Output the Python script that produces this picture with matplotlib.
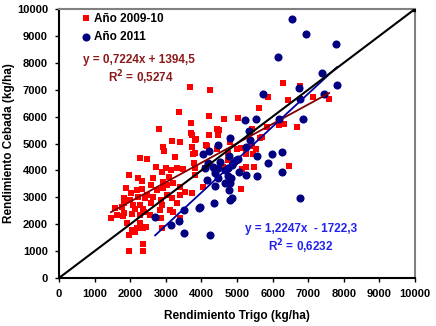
import numpy as np
import matplotlib
matplotlib.use('Agg')
import matplotlib.pyplot as plt

# datos (kg/ha)
trigo_0910 = [3680, 4240, 3370, 4210, 3710, 2810, 3710, 3740, 4210, 3170, 3850, 3400, 2920, 3740, 2950,
              4160, 3260, 3820, 2280, 2470, 3010, 2730, 2890, 3150, 3320, 3480, 3820, 2220, 2330, 1970,
              2640, 2920, 3090, 1880, 2020, 2190, 2330, 2580, 2750, 2920, 3030, 3200, 3400, 3540, 2470,
              2220, 2420, 2640, 3030, 3170, 3400, 3740, 1830, 1990, 2870, 1830, 2080, 2280, 2580, 2890,
              3320, 2140, 2360, 2840, 3120, 1570, 1770, 2280, 2050, 2870, 3200, 3400, 1830, 2390, 2560,
              2750, 1630, 1800, 1910, 2190, 2280, 2050, 2890, 1460, 1970, 2440, 2360, 2140, 1970, 2360,
              2360, 6290, 6770, 5870, 6430, 7140, 7580, 5620, 4640, 5030, 5420, 4490, 4470, 4130, 6180,
              6320, 6690, 5700, 5530, 5250, 5450, 5000, 4440, 4750, 4940, 5250, 5480, 6460, 5110, 4610,
              4750, 4050, 4800, 5110, 5420, 5650, 5840, 3760, 3820, 4720, 4440, 3820, 5140, 3790, 4100]
cebada_0910 = [7100, 6990, 6170, 6020, 5760, 5540, 5390, 5310, 5310, 5090, 5170, 5060, 4870, 4870, 4720,
               4910, 4500, 4650, 4460, 4420, 4090, 4130, 3940, 4010, 4090, 4050, 3830, 3720, 3600, 3830,
               3720, 3570, 3750, 3340, 3160, 3270, 3310, 3460, 3270, 3340, 3460, 3530, 3380, 3200, 3080,
               3010, 2970, 3010, 3080, 2970, 3080, 3160, 2970, 2900, 2900, 2790, 2710, 2710, 2790, 2710,
               2790, 2570, 2570, 2530, 2530, 2600, 2640, 2340, 2380, 2230, 2450, 2230, 2420, 2450, 2340,
               2230, 2340, 2300, 2040, 1860, 2040, 1780, 1860, 2230, 1600, 1900, 1860, 1710, 1000, 1000,
               1260, 7250, 7140, 6730, 6620, 6730, 6650, 6320, 5910, 5950, 5540, 5500, 5310, 4940, 5690,
               5720, 5610, 5240, 4800, 4610, 4610, 4800, 4800, 4650, 4310, 4130, 4130, 4160, 3310, 4130,
               4390, 3380, 5060, 4830, 4910, 5200, 5610, 4610, 4090, 4010, 5540, 5130, 4050, 4280, 4090]

trigo_2011 = [6545, 6940, 7780, 6150, 7390, 6740, 7810, 5730, 6770, 7440, 5230, 5530, 6180, 6850, 5340,
              4800, 5370, 4470, 4210, 5250, 4050, 4780, 5980, 5030, 4160, 4350, 3930, 3510, 2700, 3150,
              3370, 3510, 4240, 4380, 5870, 6260, 5250, 5560, 5060, 4660, 4380, 4470, 4750, 4800, 4660,
              4780, 4860, 4800, 6770, 3960, 4190, 4330, 4890, 4520, 4830, 5560, 6260, 4750, 4870, 4970,
              4470, 4390, 4100]
cebada_2011 = [9630, 9070, 8700, 8220, 7620, 7060, 7170, 6840, 6650, 6840, 5870, 5910, 5910, 5910, 5460,
               5200, 5130, 4940, 4720, 4870, 4610, 4540, 4610, 4420, 3640, 2790, 2600, 2530, 2270, 1970,
               2120, 1670, 1600, 3420, 4280, 3940, 3830, 3790, 3940, 4010, 3900, 3720, 3790, 3530, 3530,
               3270, 2970, 2900, 2970, 2640, 4280, 4130, 4280, 4310, 3720, 4540, 4680, 4100, 4200, 4380,
               4090, 4000, 4100]

# regresiones
pend_0910, inter_0910 = 0.7224, 1394.5
rango_0910 = [1460, 7590]
pend_2011, inter_2011 = 1.2247, -1722.3
rango_2011 = [2700, 7810]

plt.rcParams['font.family'] = ['Liberation Sans', 'DejaVu Sans']
plt.rcParams['font.weight'] = 'bold'

fig = plt.figure(figsize=(4.36, 3.26), dpi=100)
ax = fig.add_axes([0.1353, 0.1472, 0.8165, 0.8252])

ax.scatter(trigo_0910, cebada_0910, marker='s', s=17, color='#FF0000', linewidths=0,
           label='Año 2009-10', zorder=2)
ax.scatter(trigo_2011, cebada_2011, marker='o', s=34, color='#000080', linewidths=0,
           label='Año 2011', zorder=2)

x1 = np.array(rango_0910)
ax.plot(x1, pend_0910 * x1 + inter_0910, color='#800000', lw=1.3, zorder=3)
x2 = np.array(rango_2011)
ax.plot(x2, pend_2011 * x2 + inter_2011, color='#0000A0', lw=1.3, zorder=3)
ax.plot([0, 10000], [0, 10000], color='black', lw=1.5, marker='s', markersize=3, zorder=4)

ax.text(0.225, 0.81, 'y = 0,7224x + 1394,5', transform=ax.transAxes, ha='center',
        va='center', color='#8B1A1A', fontsize=8.5, fontweight='bold')
ax.text(0.23, 0.745, 'R$^2$ = 0,5274', transform=ax.transAxes, ha='center',
        va='center', color='#8B1A1A', fontsize=8.5, fontweight='bold')
ax.text(0.68, 0.182, 'y = 1,2247x  - 1722,3', transform=ax.transAxes, ha='center',
        va='center', color='#2222EE', fontsize=8.5, fontweight='bold')
ax.text(0.68, 0.118, 'R$^2$ = 0,6232', transform=ax.transAxes, ha='center',
        va='center', color='#2222EE', fontsize=8.5, fontweight='bold')

ax.set_xlim(0, 10000)
ax.set_ylim(0, 10000)
ax.set_xticks(np.arange(0, 10001, 1000))
ax.set_yticks(np.arange(0, 10001, 1000))
ax.tick_params(labelsize=8, length=3, width=1, direction='out', pad=5)
for lab in ax.get_xticklabels() + ax.get_yticklabels():
    lab.set_fontweight('bold')

ax.spines['left'].set_color('black')
ax.spines['bottom'].set_color('black')
ax.spines['top'].set_color('#808080')
ax.spines['right'].set_color('#808080')
for sp in ax.spines.values():
    sp.set_linewidth(1.5)

ax.set_xlabel('Rendimiento Trigo (kg/ha)', fontsize=8.5, fontweight='bold', labelpad=8)
ax.set_ylabel('Rendimiento Cebada (kg/ha)', fontsize=8.5, fontweight='bold', labelpad=1)

ax.legend(loc='upper left', frameon=False, handletextpad=0.1,
          borderaxespad=0.1, borderpad=0.2, labelspacing=0.55, handlelength=1.2,
          scatterpoints=1, bbox_to_anchor=(0.045, 1.0),
          prop={'weight': 'bold', 'size': 8.5})

fig.savefig('out.png', dpi=100)
